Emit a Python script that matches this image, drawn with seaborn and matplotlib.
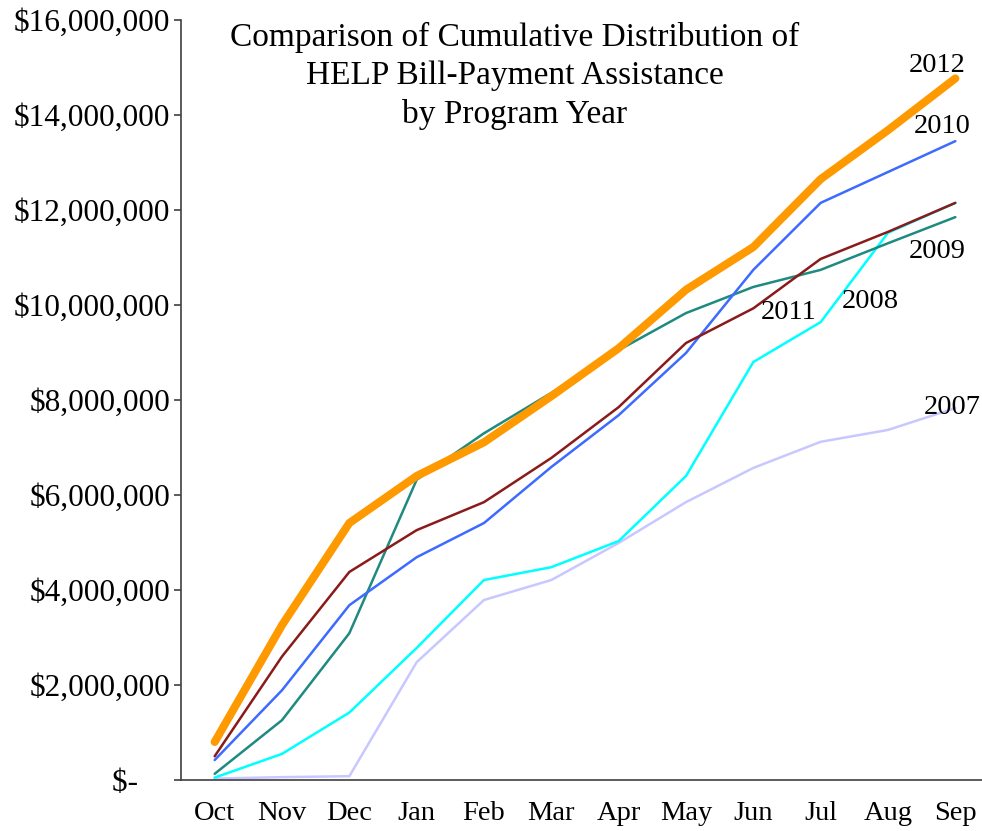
import numpy as np
import matplotlib
matplotlib.use("Agg")
import matplotlib.pyplot as plt
import seaborn as sns
from matplotlib.ticker import FuncFormatter, MultipleLocator, FixedLocator

months = ['Oct', 'Nov', 'Dec', 'Jan', 'Feb', 'Mar', 'Apr', 'May', 'Jun', 'Jul', 'Aug', 'Sep']

# cumulative distribution by program year (dollars)
y2007 = [30000, 60000, 80000, 2480000, 3790000, 4210000, 4990000, 5850000, 6570000, 7120000, 7370000, 7830000]
y2008 = [50000, 550000, 1420000, 2780000, 4210000, 4480000, 5030000, 6400000, 8800000, 9640000, 11520000, 12150000]
y2009 = [130000, 1260000, 3090000, 6320000, 7300000, 8150000, 9050000, 9830000, 10380000, 10740000, 11300000, 11850000]
y2010 = [420000, 1890000, 3680000, 4690000, 5410000, 6590000, 7680000, 8990000, 10740000, 12150000, 12800000, 13450000]
y2011 = [500000, 2600000, 4380000, 5260000, 5850000, 6780000, 7850000, 9200000, 9930000, 10970000, 11540000, 12150000]
y2012 = [800000, 3260000, 5410000, 6400000, 7110000, 8080000, 9090000, 10320000, 11220000, 12650000, 13680000, 14770000]

series = [
    ('2007', y2007, '#C8C8FF', 1.8, (10.95, 7850000)),
    ('2008', y2008, '#00FFFF', 1.8, (9.73, 10080000)),
    ('2009', y2009, '#1F8A80', 1.8, (10.73, 11120000)),
    ('2010', y2010, '#3D6BFF', 1.8, (10.8, 13750000)),
    ('2011', y2011, '#8B1A1A', 1.8, (8.52, 9850000)),
    ('2012', y2012, '#FF9900', 5.8, (10.73, 15050000)),
]

sns.set_style('white')
plt.rcParams['font.family'] = ['Liberation Serif', 'DejaVu Serif']
plt.rcParams['text.color'] = 'black'
plt.rcParams['xtick.color'] = 'black'
plt.rcParams['ytick.color'] = 'black'

fig = plt.figure(figsize=(9.82, 8.31), dpi=100)
ax = fig.add_axes([181 / 982, 1 - 780 / 831, 808 / 982, 760 / 831])

x = np.arange(len(months))
for name, vals, col, lw, pos in series:
    sns.lineplot(x=x, y=vals, ax=ax, color=col, linewidth=lw,
                 solid_capstyle='round', solid_joinstyle='round')
    ax.text(pos[0], pos[1], name, ha='center', va='center', fontsize=20.5, color='black')

ax.set_xlim(-0.5, 11.5)
ax.set_ylim(0, 16000000)
ax.yaxis.set_major_locator(MultipleLocator(2000000))
ax.yaxis.set_major_formatter(FuncFormatter(lambda v, p: '$-    ' if v == 0 else '${:,.0f}'.format(v)))

ax.set_xticks(x)
ax.set_xticklabels(months)
ax.xaxis.set_minor_locator(FixedLocator(np.arange(-0.5, 12, 1)))
ax.tick_params(axis='x', which='major', length=0, pad=15, labelsize=20.5)
ax.tick_params(axis='x', which='minor', length=6, width=1.2, color='#404040', direction='out')
ax.tick_params(axis='y', which='major', length=5, width=1.2, color='#404040', direction='out',
               pad=3, labelsize=22.5, left=True)

for s in ['top', 'right']:
    ax.spines[s].set_visible(False)
for s in ['left', 'bottom']:
    ax.spines[s].set_color('#404040')
    ax.spines[s].set_linewidth(1.2)

fig.text(515 / 982, 1 - 22 / 831,
         'Comparison of Cumulative Distribution of\nHELP Bill-Payment Assistance\nby Program Year',
         ha='center', va='top', fontsize=24, linespacing=1.32, multialignment='center')

fig.savefig('out.png', dpi=100)
